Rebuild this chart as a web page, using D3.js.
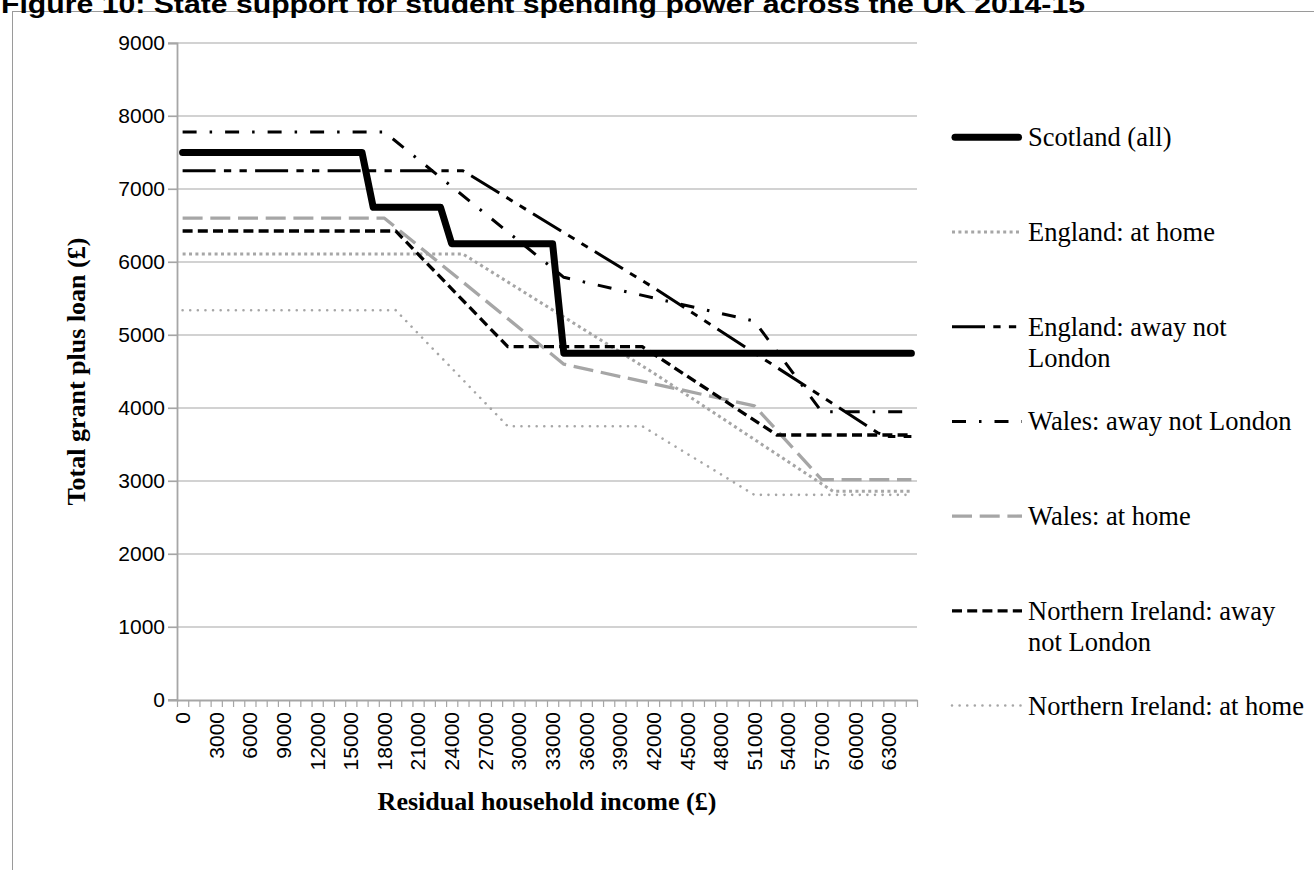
<!DOCTYPE html>
<html><head><meta charset="utf-8">
<script src="https://cdn.jsdelivr.net/npm/d3@7"></script>
<style>body{margin:0;background:#fff;} svg{display:block;}</style>
</head><body>
<svg id="chart" width="1314" height="870"></svg>
<script>
// ---- data ----
const categories = d3.range(0, 66000, 1000); // residual household income categories (£)
const xTickLabels = [0,3000,6000,9000,12000,15000,18000,21000,24000,27000,30000,33000,36000,39000,42000,45000,48000,51000,54000,57000,60000,63000];
const yTicks = [0,1000,2000,3000,4000,5000,6000,7000,8000,9000];
const titleText = "Figure 10: State support for student spending power across the UK 2014-15";
const yTitle = "Total grant plus loan (£)";
const xTitle = "Residual household income (£)";
const seriesNames = ["Scotland (all)","England: at home","England: away not London","Wales: away not London","Wales: at home","Northern Ireland: away not London","Northern Ireland: at home"];
const legendLines = [["Scotland (all)"],["England: at home"],["England: away not","London"],["Wales: away not London"],["Wales: at home"],["Northern Ireland: away","not London"],["Northern Ireland: at home"]];
// breakpoints [income, total]
const scotland    = [[0,7500],[16000,7500],[17000,6750],[23000,6750],[24000,6250],[33000,6250],[34000,4750],[65000,4750]];
const englandHome = [[0,6110],[25000,6110],[42000,4480],[58000,2860],[65000,2860]];
const englandAway = [[0,7250],[25000,7250],[42000,5650],[62000,3660],[63000,3610],[65000,3610]];
const walesAway   = [[0,7780],[18000,7780],[34000,5790],[51000,5190],[57000,3950],[65000,3950]];
const walesHome   = [[0,6600],[18000,6600],[34000,4600],[51000,4030],[57000,3020],[65000,3020]];
const niAway      = [[0,6425],[19000,6425],[29000,4840],[41000,4840],[53000,3630],[65000,3630]];
const niHome      = [[0,5340],[19000,5340],[29000,3750],[41000,3750],[51000,2810],[65000,2810]];
const seriesData = [scotland, englandHome, englandAway, walesAway, walesHome, niAway, niHome];

// ---- styles ----
const GRAY = "#a6a6a6";
const SERIF = "'Liberation Serif','Times New Roman',serif";
const SANS = "'Liberation Sans', Arial, sans-serif";
const styles = [
  {color:"#000", width:7, dash:null, cap:"round"},
  {color:GRAY, width:3, dash:"3,3.4", cap:"butt"},
  {color:"#000", width:3, dash:"33,8.3,7.3,8.3,7.3,8.3", cap:"butt"},
  {color:"#000", width:3, dash:"14,13,2.5,13", cap:"butt"},
  {color:GRAY, width:3.3, dash:"20,7.7", cap:"butt"},
  {color:"#000", width:3.3, dash:"10,5.2", cap:"butt"},
  {color:GRAY, width:2.6, dash:"0.01,7.6", cap:"round"}
];

const svg = d3.select("#chart");
const x = d3.scaleLinear().domain([categories[0]-500, categories[categories.length-1]+500]).range([177, 917]);
const y = d3.scaleLinear().domain([0, 9000]).range([700, 43]);

// chart area border
svg.append("rect").attr("x",12.5).attr("y",11.5).attr("width",1400).attr("height",1000)
  .attr("fill","none").attr("stroke","#9a9a9a").attr("stroke-width",1);

// title (cut off at top, as in the source)
svg.append("text").attr("x",1).attr("y",13).text(titleText)
  .attr("font-family",SANS).attr("font-weight","bold")
  .attr("font-size",26).attr("textLength",1084).attr("lengthAdjust","spacingAndGlyphs");

// gridlines
svg.append("g").selectAll("line").data(yTicks.filter(d=>d>0)).join("line")
  .attr("x1",168).attr("x2",917).attr("y1",d=>y(d)).attr("y2",d=>y(d))
  .attr("stroke",GRAY).attr("stroke-width",1.2);

// y axis
const yAxis = svg.append("g").attr("transform","translate(177,0)")
  .call(d3.axisLeft(y).tickValues(yTicks).tickSize(9).tickPadding(3).tickFormat(d3.format("d")));
yAxis.select(".domain").attr("stroke",GRAY).attr("stroke-width",1.8);
yAxis.selectAll(".tick line").attr("stroke",GRAY).attr("stroke-width",1.2);
yAxis.selectAll(".tick text").attr("font-family",SANS).attr("font-size",21).attr("fill","#000");

// x axis (category boundaries as ticks)
const boundaries = categories.map(c=>c-500).concat([categories[categories.length-1]+500]);
const xAxis = svg.append("g").attr("transform","translate(0,700)")
  .call(d3.axisBottom(x).tickValues(boundaries).tickSize(7).tickSizeOuter(0).tickFormat(""));
xAxis.select(".domain").attr("stroke",GRAY).attr("stroke-width",1.8);
xAxis.selectAll(".tick line").attr("stroke",GRAY).attr("stroke-width",1.2);
svg.append("line").attr("x1",168).attr("x2",177).attr("y1",700).attr("y2",700).attr("stroke",GRAY).attr("stroke-width",1.8);

// x tick labels rotated
svg.append("g").selectAll("text").data(xTickLabels).join("text")
  .attr("transform",d=>`translate(${x(d)},712) rotate(-90)`)
  .attr("text-anchor","end").attr("dy","0.35em")
  .attr("font-family",SANS).attr("font-size",21)
  .text(d=>d);

// axis titles
svg.append("text").attr("transform",`translate(76,${(y(0)+y(9000))/2}) rotate(-90)`)
  .attr("text-anchor","middle").attr("dy","0.35em")
  .attr("font-family",SERIF).attr("font-weight","bold").attr("font-size",26)
  .text(yTitle);
svg.append("text").attr("x",(x.range()[0]+x.range()[1])/2).attr("y",810)
  .attr("text-anchor","middle")
  .attr("font-family",SERIF).attr("font-weight","bold").attr("font-size",26)
  .text(xTitle);

// lines
const line = d3.line().x(d=>x(d[0])).y(d=>y(d[1]));
const order = [6,4,1,5,3,2,0];
order.forEach(i=>{
  const s = styles[i];
  svg.append("path").datum(seriesData[i]).attr("d",line)
    .attr("fill","none").attr("stroke",s.color).attr("stroke-width",s.width)
    .attr("stroke-dasharray",s.dash).attr("stroke-linecap",s.cap).attr("stroke-linejoin","round");
});

// legend
const legY0 = 137.3, legStep = 94.7;
seriesNames.forEach((name,i)=>{
  const s = styles[i];
  const ly = legY0 + i*legStep;
  const thick = s.cap==="round" && s.width>5;
  svg.append("line").attr("x1",thick?955:952).attr("x2",thick?1018.5:1022)
    .attr("y1",ly).attr("y2",ly)
    .attr("stroke",s.color).attr("stroke-width",s.width).attr("stroke-dasharray",s.dash).attr("stroke-linecap",s.cap);
  const t = svg.append("text").attr("x",1028).attr("y",ly+9)
    .attr("font-family",SERIF).attr("font-size",26.5);
  legendLines[i].forEach((ln,k)=>{
    t.append("tspan").attr("x",1028).attr("dy",k===0?0:31).text(ln);
  });
});
</script>
</body></html>
